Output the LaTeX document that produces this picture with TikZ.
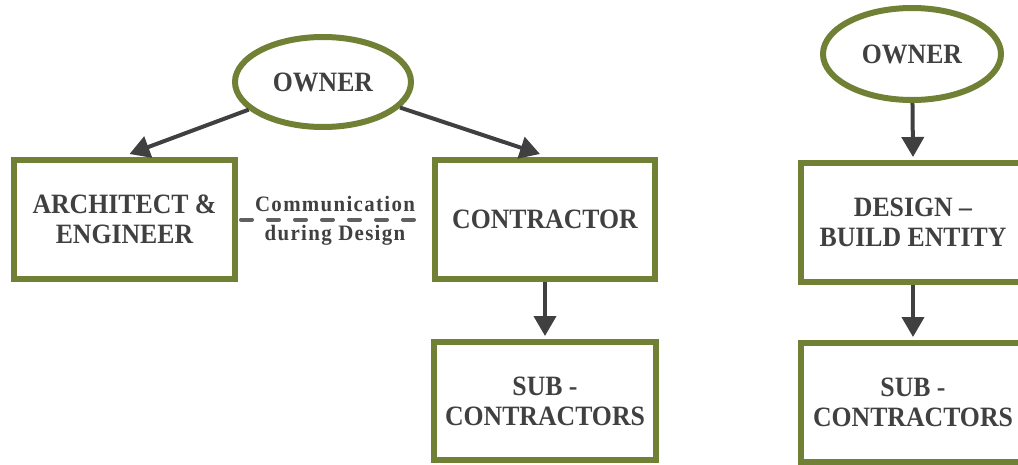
\documentclass[tikz,border=0pt]{standalone}
\usepackage{fontspec}
\setmainfont{Liberation Serif}
\newfontfamily\boxfam[FakeStretch=0.92,Ligatures=TeX]{Liberation Serif}
\newfontfamily\labfam[FakeStretch=0.95,LetterSpace=6,Ligatures=TeX]{Liberation Serif}
\newcommand\boxfont{\boxfam\bfseries\fontsize{28}{30}\selectfont}
\newcommand\labfont{\labfam\bfseries\fontsize{22}{29}\selectfont}
\usetikzlibrary{shapes.geometric,arrows.meta}
\definecolor{boxgreen}{RGB}{112,128,52}
\definecolor{txt}{RGB}{64,64,64}
\definecolor{dashc}{RGB}{96,96,96}
\begin{document}
\begin{tikzpicture}[x=1pt,y=-1pt,
  box/.style={rectangle,draw=boxgreen,line width=6pt,fill=white,inner sep=0pt,
    align=center,text=txt,font=\boxfont},
  oval/.style={ellipse,draw=boxgreen,line width=6pt,fill=white,inner sep=0pt,
    align=center,text=txt,font=\boxfont},
  arr/.style={draw=txt,line width=4pt,-{Triangle[length=20pt,width=22pt]}},
  dashline/.style={draw=dashc,line width=4pt,line cap=round,dash pattern=on 11pt off 16pt},
  lab/.style={text=txt,font=\labfont,align=center,inner sep=0pt}]
\useasboundingbox (0,0) rectangle (1018,464);
% left: traditional
\node[oval,minimum width=176pt,minimum height=90pt] (own1) at (323,82) {OWNER};
\node[box,minimum width=221pt,minimum height=119pt] (ae) at (124.5,219.5) {ARCHITECT \&\\ENGINEER};
\node[box,minimum width=220pt,minimum height=119pt] (con) at (545,219.5) {CONTRACTOR};
\node[box,minimum width=222pt,minimum height=118pt] (sub1) at (545,401) {SUB -\\CONTRACTORS};
\draw[arr] (own1) -- ([xshift=5pt,yshift=3pt]ae.north);
\draw[arr] (own1) -- ([xshift=-5pt,yshift=3pt]con.north);
\draw[arr] (con.south) -- ([yshift=3pt]sub1.north);
\draw[dashline] ([xshift=3pt]ae.east) -- ([xshift=-3pt]con.west);
\node[lab] (comm) at (335,221) {Communication\\during Design};
% right: design-build
\node[oval,minimum width=178pt,minimum height=92pt] (own2) at (912,54) {OWNER};
\node[box,minimum width=224pt,minimum height=119pt] (db) at (913,222.5) {DESIGN –\\BUILD ENTITY};
\node[box,minimum width=224pt,minimum height=119pt] (sub2) at (913,402.5) {SUB -\\CONTRACTORS};
\draw[arr] (own2) -- ([yshift=3pt]db.north);
\draw[arr] (db.south) -- ([yshift=3pt]sub2.north);
\end{tikzpicture}
\end{document}
